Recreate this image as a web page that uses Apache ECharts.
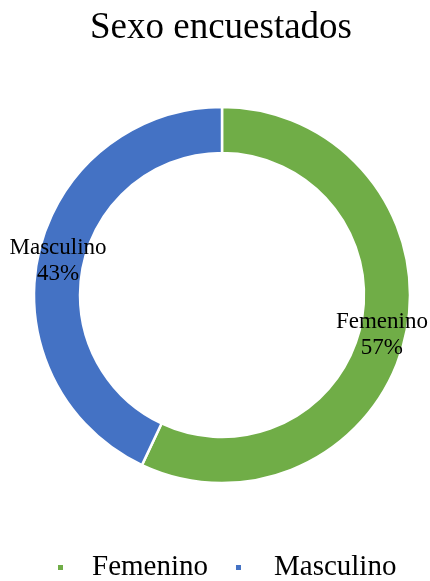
<!DOCTYPE html>
<html>
<head>
<meta charset="UTF-8">
<title>Sexo encuestados</title>
<script src="https://cdn.jsdelivr.net/npm/echarts@6/dist/echarts.min.js"></script>
<style>
  html, body { margin: 0; padding: 0; background: #fff; }
  #main { width: 430px; height: 581px; }
</style>
</head>
<body>
<div id="main"></div>
<script>
var categories = ['Femenino', 'Masculino'];
var values = [57, 43];
var colors = ['#70AD47', '#4472C4'];

var serif = '"Liberation Serif", "DejaVu Serif", serif';
var chart = echarts.init(document.getElementById('main'));

// small nudges so the inside labels sit where the original has them
var labelOffsets = [[-4, 3], [0, 3]];
var data = [];
for (var i = 0; i < categories.length; i++) {
  data.push({
    name: categories[i],
    value: values[i],
    itemStyle: { color: colors[i] },
    label: { offset: labelOffsets[i] }
  });
}

// legend spacing between marker and text differs per item in the original
var legendPad = [23, 27];
var legendData = categories.map(function (c, i) {
  return { name: c, textStyle: { padding: [0, 0, 0, legendPad[i]] } };
});

chart.setOption({
  animation: false,
  title: {
    text: 'Sexo encuestados',
    left: 85,
    top: 5,
    textStyle: { fontFamily: serif, fontSize: 37, fontWeight: 'normal', color: '#000' }
  },
  legend: {
    data: legendData,
    bottom: -6,
    left: 51,
    icon: 'rect',
    itemWidth: 7,
    itemHeight: 7,
    itemGap: 26,
    textStyle: { fontFamily: serif, fontSize: 29, color: '#000' }
  },
  series: [{
    type: 'pie',
    center: [222, 295],
    radius: [142, 188],
    startAngle: 90,
    clockwise: true,
    data: data,
    itemStyle: { borderColor: '#fff', borderWidth: 2.5 },
    label: {
      show: true,
      position: 'inside',
      fontFamily: serif,
      fontSize: 23,
      color: '#000',
      lineHeight: 26,
      formatter: function (p) { return p.name + '\n' + p.percent.toFixed(0) + '%'; }
    },
    labelLine: { show: false },
    emphasis: { disabled: true }
  }]
});
</script>
</body>
</html>
